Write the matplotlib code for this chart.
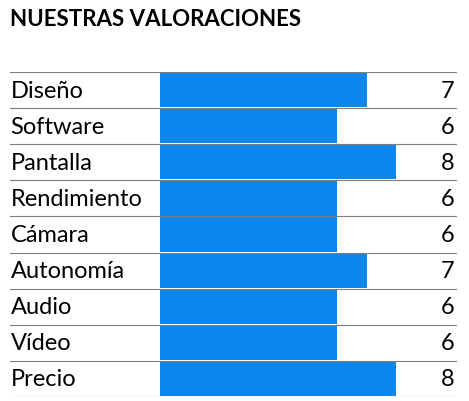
import matplotlib
matplotlib.use("Agg")
import matplotlib.pyplot as plt

categories = ["Diseño", "Software", "Pantalla", "Rendimiento", "Cámara", "Autonomía", "Audio", "Vídeo", "Precio"]
scores = [7, 6, 8, 6, 6, 7, 6, 6, 8]

plt.rcParams['font.family'] = ['Lato', 'DejaVu Sans']
fig = plt.figure(figsize=(4.69, 4.02), dpi=100)
ax = fig.add_axes([10/469, 4/402, 447/469, 325/402])
ax.set_xlim(-150/29.5, 297/29.5)
ax.set_ylim(len(categories), 0)
ax.axis('off')
for i, (c, v) in enumerate(zip(categories, scores)):
    ax.barh(i + 0.5, v, height=0.95, left=0, color='#0A86EC')
    ax.text(-150/29.5 + 0.02, i + 0.5, c, va='center', ha='left', fontsize=17)
    ax.text(297/29.5 - 0.1, i + 0.5, str(v), va='center', ha='right', fontsize=17)
for y in range(len(categories) + 1):
    ax.axhline(y, color='#7f7f7f', lw=0.8)
fig.text(10/469, 1 - 20/402, "NUESTRAS VALORACIONES", fontsize=16, fontweight='bold', va='center', ha='left')
fig.savefig("out.png", dpi=100)
